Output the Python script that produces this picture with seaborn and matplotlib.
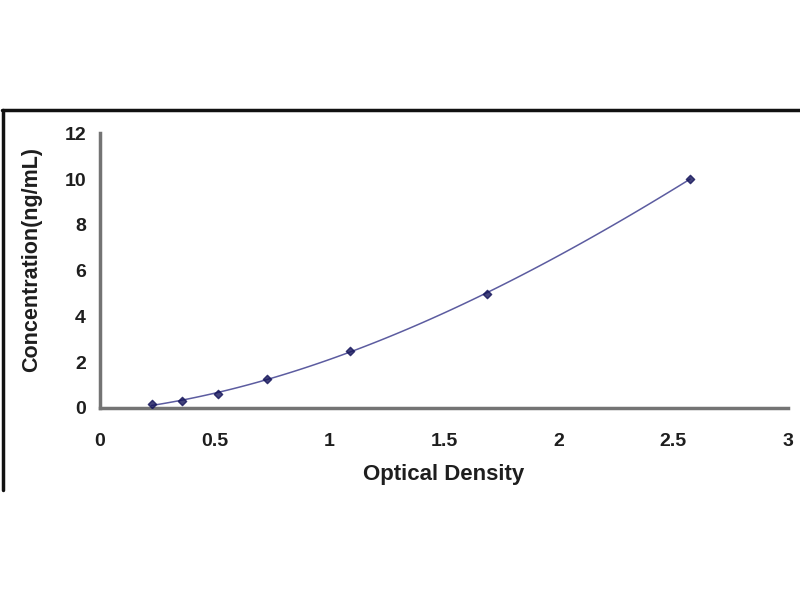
import numpy as np
import pandas as pd
import matplotlib
matplotlib.use("Agg")
import matplotlib.pyplot as plt
import seaborn as sns
from matplotlib.lines import Line2D

# Standard curve data
od = [0.225, 0.356, 0.516, 0.727, 1.09, 1.686, 2.573]
conc = [0.156, 0.312, 0.625, 1.25, 2.5, 5.0, 10.0]
x_ticks = [0, 0.5, 1, 1.5, 2, 2.5, 3]
x_tick_labels = ["0", "0.5", "1", "1.5", "2", "2.5", "3"]
y_ticks = [0, 2, 4, 6, 8, 10, 12]

df = pd.DataFrame({"Optical Density": od, "Concentration": conc})

sns.set_style("white")
plt.rcParams['font.family'] = ['Liberation Sans', 'DejaVu Sans']

fig = plt.figure(figsize=(8, 6), dpi=100)
ax = fig.add_axes([0.125, 0.32, 0.86, 0.458])

sns.regplot(data=df, x="Optical Density", y="Concentration", order=3, ci=None,
            ax=ax, marker="D",
            scatter_kws={"s": 18, "color": "#14145a", "zorder": 3},
            line_kws={"color": "#5c5ca0", "lw": 1.1})

ax.set_xlim(0, 3)
ax.set_ylim(0, 12)
ax.set_xticks(x_ticks)
ax.set_xticklabels(x_tick_labels)
ax.set_yticks(y_ticks)

sns.despine(ax=ax)
for side in ["left", "bottom"]:
    ax.spines[side].set_color("#747474")
    ax.spines[side].set_linewidth(2.5)

ax.tick_params(direction="in", length=6, width=1.6, color="#555555",
               labelsize=14, labelcolor="#1e1e1e")
ax.tick_params(axis="x", pad=18)
ax.tick_params(axis="y", pad=10)
for lab in ax.get_xticklabels() + ax.get_yticklabels():
    lab.set_fontweight("bold")

ax.set_xlabel("Optical Density", fontsize=16, fontweight="bold", color="#1e1e1e")
ax.set_ylabel("Concentration(ng/mL)", fontsize=15.5, fontweight="bold", color="#1e1e1e")
ax.xaxis.set_label_coords(0.5, -0.205)
ax.yaxis.set_label_coords(-0.084, 0.54)

# outer frame of the original figure (top and left edges)
fig.add_artist(Line2D([0.003, 1.0], [1 - 110 / 600, 1 - 110 / 600], color="#111111", lw=2.5,
                      transform=fig.transFigure))
fig.add_artist(Line2D([0.004, 0.004], [1 - 110 / 600, 1 - 490 / 600], color="#111111", lw=2.5,
                      transform=fig.transFigure))

fig.savefig("out.png", dpi=100)
plt.close(fig)
